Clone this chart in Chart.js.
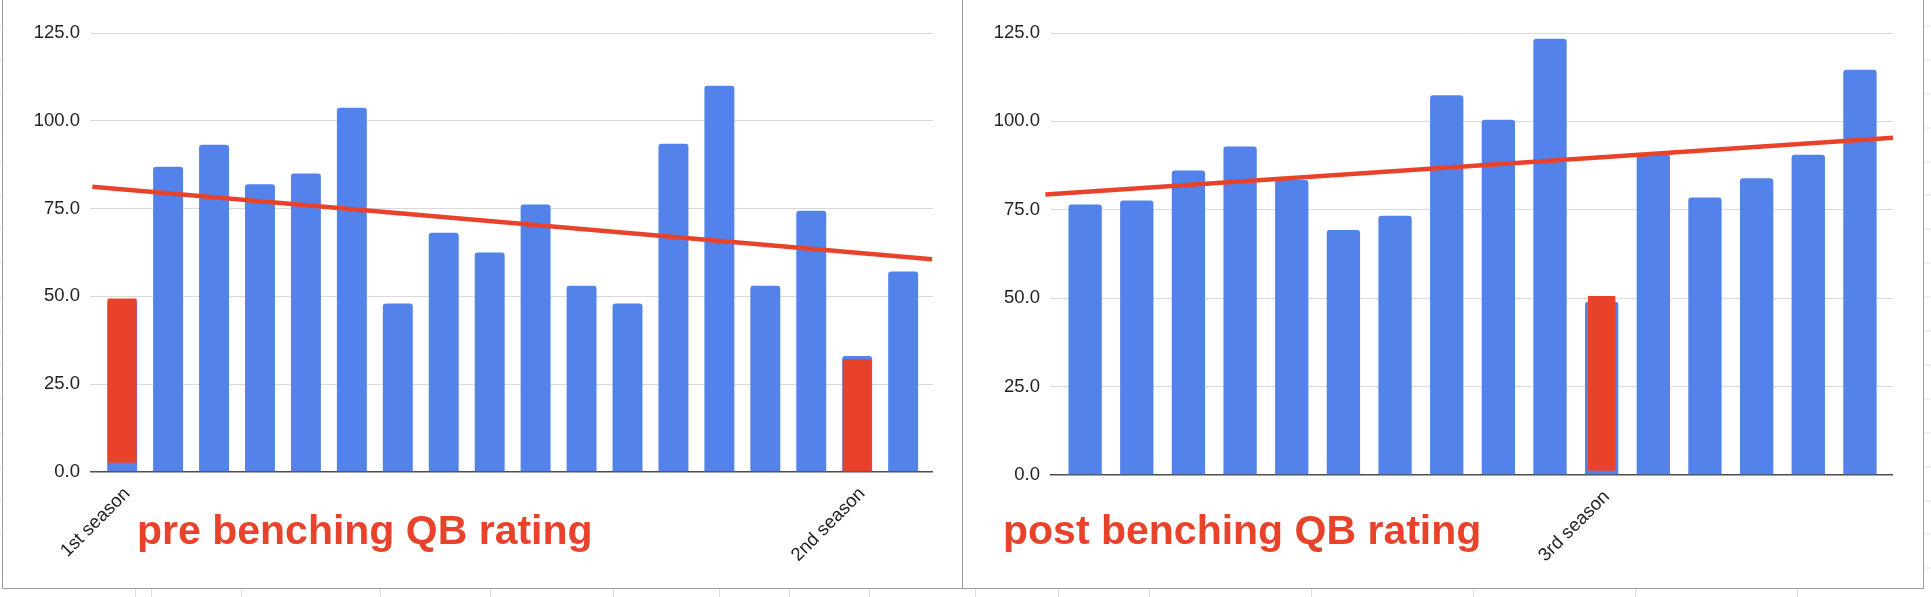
<!DOCTYPE html>
<html>
<head>
<meta charset="utf-8">
<title>QB rating before and after benching</title>
<script src="https://cdn.jsdelivr.net/npm/chart.js@4.4.1/dist/chart.umd.min.js"></script>
<style>
    html, body { margin: 0; padding: 0; }
    body {
        width: 1931px;
        height: 597px;
        position: relative;
        overflow: hidden;
        background: #fff repeating-linear-gradient(180deg, transparent 0px, transparent 32.9px, #e2e2e2 32.9px, #e2e2e2 33.9px);
        background-position: 0 -7.5px;
        font-family: "Liberation Sans", Arial, sans-serif;
    }
    .frame {
        position: absolute;
        top: -1px;
        height: 590px;
        box-sizing: border-box;
        background: #fff;
        border: 1px solid #9e9e9e;
        border-top: none;
    }
    #frameL { left: 2px; width: 961px; }
    #frameR { left: 962px; width: 962px; }
    canvas { position: absolute; top: 0; }
    #preChart { left: 3px; }
    #postChart { left: 963px; }
    .caption {
        position: absolute;
        top: 510px;
        font-weight: bold;
        font-size: 41px;
        line-height: 41px;
        color: #e8432a;
        white-space: nowrap;
    }
    .col { position: absolute; top: 589px; width: 1px; height: 8px; background: #e0e0e0; }
</style>
</head>
<body>
<div class="frame" id="frameL"></div>
<div class="frame" id="frameR"></div>
<canvas id="preChart" width="959" height="588"></canvas>
<canvas id="postChart" width="960" height="588"></canvas>
<div class="caption" style="left:137px">pre benching QB rating</div>
<div class="caption" style="left:1003px">post benching QB rating</div>
<script>
// game by game QB rating, one bar per game
const preRating = [49.0, 86.9, 93.2, 81.9, 85.0, 103.7, 48.0, 68.1, 62.5, 76.2, 53.0, 48.0, 93.5, 110.0, 53.0, 74.4, 33.0, 57.1];
const postRating = [76.5, 77.6, 86.1, 92.9, 83.4, 69.3, 73.3, 107.4, 100.5, 123.4, 49.0, 90.8, 78.5, 83.9, 90.6, 114.6];

// red highlighted games (floating bars drawn over the blue ones)
const preHighlightIdx = [0, 16];
const preHighlightLow = [2.6, 0];
const preHighlightHigh = [49.4, 32.1];
const postHighlightIdx = [10];
const postHighlightLow = [1.2];
const postHighlightHigh = [50.6];

// x tick labels
const preSeasonIdx = [0, 16];
const preSeasonLabels = ['1st season', '2nd season'];
const postSeasonIdx = [10];
const postSeasonLabels = ['3rd season'];

// trendline ends
const preTrendX = [-0.65, 17.63];
const preTrendY = [81.2, 60.6];
const postTrendX = [-0.77, 15.64];
const postTrendY = [79.3, 95.4];

const yTicks = [0, 25, 50, 75, 100, 125];

const BLUE = '#5383ea';
const RED = '#e8432a';

Chart.defaults.font.family = '"Liberation Sans", Arial, sans-serif';
Chart.defaults.color = '#222';

function buildChart(id, values, hiIdx, hiLow, hiHigh, seasonIdx, seasonLabels, trendX, trendY, opts) {
    const ctx = document.getElementById(id).getContext('2d');
    return new Chart(ctx, {
        type: 'bar',
        data: {
            datasets: [{
                type: 'line',
                data: trendX.map((x, i) => ({ x, y: trendY[i] })),
                borderColor: RED,
                borderWidth: 4.5,
                pointRadius: 0,
                clip: false,
                order: 0
            }, {
                data: hiIdx.map((x, i) => ({ x, y: [hiLow[i], hiHigh[i]] })),
                backgroundColor: RED,
                barPercentage: opts.hiPct,
                categoryPercentage: 1,
                grouped: false,
                order: 1
            }, {
                data: values.map((y, i) => ({ x: i, y })),
                backgroundColor: BLUE,
                barPercentage: opts.barPct,
                categoryPercentage: 1,
                grouped: false,
                borderRadius: 3,
                borderSkipped: 'bottom',
                order: 2
            }]
        },
        options: {
            responsive: false,
            animation: false,
            layout: { padding: { left: 0, right: opts.padRight, top: 33, bottom: 0 } },
            plugins: { legend: { display: false }, tooltip: { enabled: false } },
            scales: {
                x: {
                    type: 'linear',
                    offset: false,
                    min: opts.xMin,
                    max: opts.xMax,
                    afterBuildTicks: scale => { scale.ticks = seasonIdx.map(v => ({ value: v })); },
                    afterFit: scale => { scale.height = opts.xAxisH; },
                    grid: { display: false },
                    border: { display: false },
                    ticks: {
                        autoSkip: false,
                        minRotation: 45,
                        maxRotation: 45,
                        padding: 3,
                        labelOffset: 5,
                        font: { size: 18.5 },
                        callback: v => {
                            const k = seasonIdx.indexOf(v);
                            return k >= 0 ? seasonLabels[k] : '';
                        }
                    }
                },
                y: {
                    min: 0,
                    max: 125,
                    afterBuildTicks: scale => { scale.ticks = yTicks.map(v => ({ value: v })); },
                    afterFit: scale => { scale.width = opts.axisW; },
                    border: { display: false },
                    grid: {
                        drawTicks: false,
                        color: c => (c.tick && c.tick.value === 0) ? '#4d4d4d' : '#d9d9d9',
                        lineWidth: c => (c.tick && c.tick.value === 0) ? 1.5 : 1
                    },
                    ticks: {
                        padding: 10,
                        font: { size: 18.5 },
                        callback: v => v.toFixed(1)
                    }
                }
            }
        }
    });
}

buildChart('preChart', preRating, preHighlightIdx, preHighlightLow, preHighlightHigh,
    preSeasonIdx, preSeasonLabels, preTrendX, preTrendY,
    { xMin: -0.7, xMax: 17.65, axisW: 87, padRight: 29, xAxisH: 116, barPct: 0.652, hiPct: 0.63 });

buildChart('postChart', postRating, postHighlightIdx, postHighlightLow, postHighlightHigh,
    postSeasonIdx, postSeasonLabels, postTrendX, postTrendY,
    { xMin: -0.68, xMax: 15.64, axisW: 87, padRight: 30, xAxisH: 113, barPct: 0.645, hiPct: 0.53 });

// spreadsheet column lines showing under the chart frames
const sheetCols = [135, 151, 241, 380, 490, 613, 719, 789, 869, 975, 1058, 1149, 1311, 1473, 1635, 1797];
sheetCols.forEach(x => {
    const d = document.createElement('div');
    d.className = 'col';
    d.style.left = x + 'px';
    document.body.appendChild(d);
});
</script>
</body>
</html>
